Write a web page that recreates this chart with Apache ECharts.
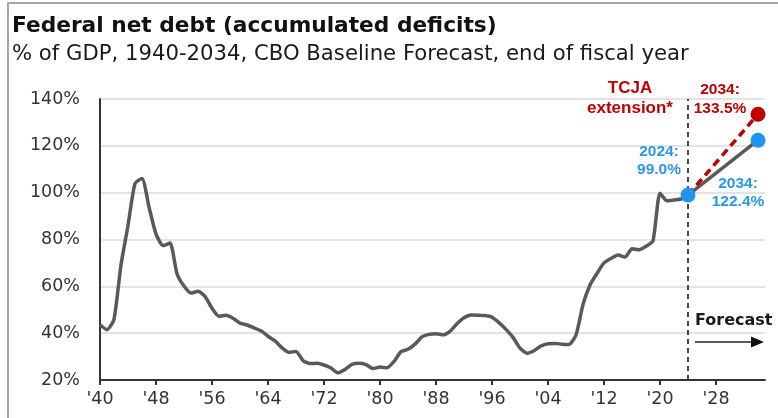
<!DOCTYPE html>
<html>
<head>
<meta charset="utf-8">
<script src="https://cdn.jsdelivr.net/npm/echarts@6/dist/echarts.min.js"></script>
<style>
html,body{margin:0;padding:0;background:#fff;}
#chart{width:778px;height:418px;}
</style>
</head>
<body>
<div id="chart"></div>
<script>
// ---- data ----
const years = [1940,1941,1942,1943,1944,1945,1946,1947,1948,1949,
  1950,1951,1952,1953,1954,1955,1956,1957,1958,1959,
  1960,1961,1962,1963,1964,1965,1966,1967,1968,1969,
  1970,1971,1972,1973,1974,1975,1976,1977,1978,1979,
  1980,1981,1982,1983,1984,1985,1986,1987,1988,1989,
  1990,1991,1992,1993,1994,1995,1996,1997,1998,1999,
  2000,2001,2002,2003,2004,2005,2006,2007,2008,2009,
  2010,2011,2012,2013,2014,2015,2016,2017,2018,2019,
  2020,2021,2022,2023,2024];
const netDebt = [43.6,41.5,45.9,69.2,86.0,103.9,106.1,93.9,82.4,77.4,
  78.5,65.4,60.1,57.1,57.9,55.7,50.6,47.2,47.7,46.4,
  44.3,43.5,42.3,41.0,38.7,36.7,33.7,31.8,32.2,28.3,
  27.0,27.1,26.4,25.1,23.1,24.5,26.7,27.1,26.6,24.9,
  25.5,25.2,27.9,32.1,33.1,35.3,38.4,39.5,39.8,39.3,
  40.8,44.0,46.6,47.8,47.7,47.5,46.8,44.5,41.6,38.2,
  33.6,31.4,32.5,34.5,35.5,35.6,35.3,35.2,39.2,52.2,
  60.6,65.5,70.0,71.9,73.4,72.5,76.0,75.6,77.1,79.4,
  99.8,96.5,96.9,97.3,99.0];
const baselineYears = [2024, 2034];
const baselineValues = [99.0, 122.4];
const tcjaYears = [2024, 2034];
const tcjaValues = [99.0, 133.5];
const forecastStart = 2024;
const tickYears = [1940,1948,1956,1964,1972,1980,1988,1996,2004,2012,2020,2028];
const tickLabels = ["'40","'48","'56","'64","'72","'80","'88","'96","'04","'12","'20","'28"];
const yTicks = [20,40,60,80,100,120,140];

// ---- chart ----
const chart = echarts.init(document.getElementById('chart'), null, {renderer:'canvas'});
const hist = years.map((y,i)=>[y, netDebt[i]]);
const base = baselineYears.map((y,i)=>[y, baselineValues[i]]);
const tcja = tcjaYears.map((y,i)=>[y, tcjaValues[i]]);
const GRAY = '#595959', RED = '#C00000', BLUE = '#1E96F0', BLUE_T = '#2A98E4';
const numFont = 'Liberation Sans, Arial, sans-serif';

const option = {
  animation:false,
  backgroundColor:'#fff',
  grid:{left:100, right:13, top:99, bottom:38, containLabel:false},
  xAxis:{
    type:'value', min:1940, max:2035,
    axisLine:{show:true, lineStyle:{color:'#333', width:2}},
    axisTick:{show:true, customValues:tickYears, length:5, lineStyle:{color:'#333', width:2}},
    axisLabel:{customValues:tickYears, margin:10, color:'#333', fontFamily:'DejaVu Sans', fontSize:17.5,
      formatter:v=>{const i=tickYears.indexOf(v); return i>=0?tickLabels[i]:'';}},
    splitLine:{show:false}
  },
  yAxis:{
    type:'value', min:yTicks[0], max:yTicks[yTicks.length-1], interval:20,
    axisLine:{show:true, lineStyle:{color:'#333', width:2}},
    axisTick:{show:false},
    axisLabel:{margin:20, color:'#333', fontFamily:'DejaVu Sans', fontSize:17.5, formatter:'{value}%'},
    splitLine:{show:true, lineStyle:{color:'#dadada', width:1.5}}
  },
  series:[
    {type:'line', data:hist, showSymbol:false, smooth:0.2, z:2,
     lineStyle:{color:GRAY, width:3.5}, itemStyle:{color:GRAY},
     markLine:{silent:true, symbol:'none', label:{show:false},
       lineStyle:{color:'#333', width:1.8, type:[5,4]},
       data:[{xAxis:forecastStart}]}},
    {type:'line', data:base, showSymbol:false, z:2,
     lineStyle:{color:GRAY, width:3.5}, itemStyle:{color:GRAY}},
    {type:'line', data:tcja, showSymbol:false, z:3,
     lineStyle:{color:RED, width:3.5, type:[8,5]}, itemStyle:{color:RED}},
    {type:'scatter', z:5, symbolSize:15, itemStyle:{color:RED, opacity:1},
     data:[{value:tcja[1], label:{show:true, offset:[-38,-15]}}],
     label:{position:'inside', color:RED, fontFamily:numFont, fontWeight:'bold', fontSize:15.5, lineHeight:19,
       align:'center', verticalAlign:'middle',
       formatter:p=>p.value[0]+':\n'+p.value[1].toFixed(1)+'%'}},
    {type:'scatter', z:6, symbolSize:15, itemStyle:{color:BLUE, opacity:1},
     data:[{value:base[0], label:{show:true, offset:[-29,-34]}},
           {value:base[1], label:{show:true, offset:[-20,53]}}],
     label:{position:'inside', color:BLUE_T, fontFamily:numFont, fontWeight:'bold', fontSize:15.5, lineHeight:18,
       align:'center', verticalAlign:'middle',
       formatter:p=>p.value[0]+':\n'+p.value[1].toFixed(1)+'%'}}
  ],
  graphic:[
    {type:'rect', silent:true, z:-1, shape:{x:8, y:3, width:800, height:460},
     style:{fill:'none', stroke:'#a6a6a6', lineWidth:2}},
    {type:'text', left:12, top:15, style:{text:'Federal net debt (accumulated deficits)',
      fontFamily:'DejaVu Sans', fontWeight:'bold', fontSize:21.7, fill:'#111'}},
    {type:'text', left:12, top:44, style:{text:'% of GDP, 1940-2034, CBO Baseline Forecast, end of fiscal year',
      fontFamily:'DejaVu Sans', fontSize:21.2, fill:'#1a1a1a'}},
    {type:'text', x:630, y:98, style:{text:'TCJA\nextension*', align:'center', verticalAlign:'middle',
      fontFamily:numFont, fontWeight:'bold', fontSize:17, lineHeight:20, fill:RED}},
    {type:'text', x:695, y:321, style:{text:'Forecast', align:'left', verticalAlign:'middle',
      fontFamily:'DejaVu Sans', fontWeight:'bold', fontSize:16, fill:'#1a1a1a'}},
    {type:'line', silent:true, shape:{x1:695, y1:342, x2:754, y2:342}, style:{stroke:'#222', lineWidth:1.5}},
    {type:'polygon', silent:true, shape:{points:[[751,336.5],[764,342],[751,347.5]]}, style:{fill:'#111'}}
  ]
};
chart.setOption(option);
</script>
</body>
</html>
